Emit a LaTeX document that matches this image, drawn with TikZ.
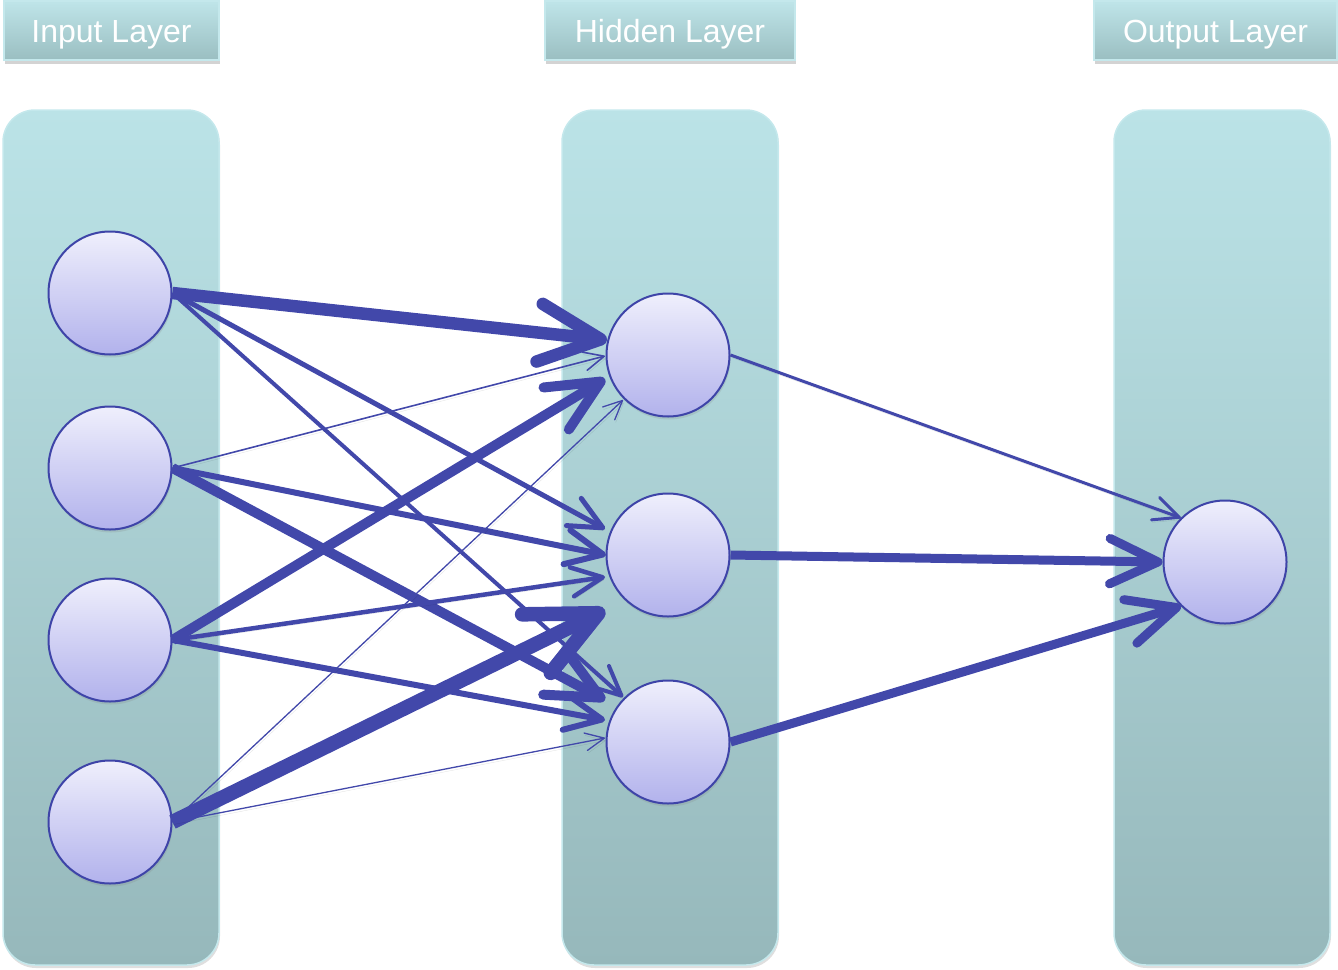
\documentclass[tikz,border=0pt]{standalone}
\usepackage{fontspec}
\setmainfont{Liberation Sans}
\usetikzlibrary{arrows.meta,shadows}

\definecolor{colTop}{RGB}{187,227,231}
\definecolor{colBot}{RGB}{150,184,187}
\definecolor{colRim}{RGB}{196,232,236}
\definecolor{hdTop}{RGB}{191,229,233}
\definecolor{hdBot}{RGB}{154,190,193}
\definecolor{nodeTop}{RGB}{239,239,252}
\definecolor{nodeBot}{RGB}{178,178,236}
\definecolor{nodeLine}{RGB}{62,68,168}
\definecolor{linkc}{RGB}{66,72,170}

\tikzset{
  column/.style={rectangle, rounded corners=32pt, minimum width=216pt,
    minimum height=855pt, top color=colTop, bottom color=colBot,
    draw=colRim, line width=1.5pt,
    drop shadow={opacity=0.25, shadow xshift=1pt, shadow yshift=-3pt}},
  header/.style={rectangle, minimum height=59pt, inner sep=0pt,
    top color=hdTop, bottom color=hdBot, draw=colRim, line width=1.2pt,
    text=white, font=\fontsize{32}{38}\selectfont,
    text height=23pt, text depth=0pt,
    drop shadow={opacity=0.35, shadow xshift=1pt, shadow yshift=-4pt}},
  neuron/.style={circle, minimum size=123pt, inner sep=0pt,
    draw=nodeLine, line width=2pt, top color=nodeTop, bottom color=nodeBot,
    drop shadow={opacity=0.2, shadow xshift=1pt, shadow yshift=-3pt}},
  wire/.style={draw=linkc, line width=#1,
    -{Straight Barb[round, length=14pt 3.8, width=13pt 3.6]},
    preaction={draw=black, draw opacity=0.1,
      transform canvas={xshift=1pt, yshift=-2.5pt}}},
}

\begin{document}
\begin{tikzpicture}[x=1pt, y=-1pt]
  \useasboundingbox (0,0) rectangle (1338,969);

  % layer columns
  \node[column] (colI) at (111,537.5) {};
  \node[column] (colH) at (670,537.5) {};
  \node[column] (colO) at (1222,537.5) {};

  % layer titles
  \node[header, minimum width=215pt] (hdI) at (111.5,30.5) {Input Layer};
  \node[header, minimum width=250pt] (hdH) at (670,30.5) {Hidden Layer};
  \node[header, minimum width=243pt] (hdO) at (1215.5,30.5) {Output Layer};

  % neurons
  \node[neuron] (i1) at (110,293) {};
  \node[neuron] (i2) at (110,468) {};
  \node[neuron] (i3) at (110,640) {};
  \node[neuron] (i4) at (110,822) {};
  \node[neuron] (h1) at (668,355) {};
  \node[neuron] (h2) at (668,555) {};
  \node[neuron] (h3) at (668,742) {};
  \node[neuron] (o1) at (1225,562) {};

  % input -> hidden weights
  \draw[wire=12.5pt] (i1.east) -- ([shift={(-61,-15)}]h1.center);
  \draw[wire=5pt]    (i1.east) -- ([shift={(-63,-26)}]h2.center);
  \draw[wire=4pt]    (i1.east) -- ([shift={(-45,-45)}]h3.center);

  \draw[wire=1.6pt]  (i2.east) -- ([shift={(-63,1)}]h1.center);
  \draw[wire=6pt]    (i2.east) -- ([shift={(-62,0)}]h2.center);
  \draw[wire=10pt]   (i2.east) -- ([shift={(-63,-42)}]h3.center);

  \draw[wire=10pt]   (i3.east) -- ([shift={(-63,24)}]h1.center);
  \draw[wire=4.5pt]  (i3.east) -- ([shift={(-63,22)}]h2.center);
  \draw[wire=6pt]    (i3.east) -- ([shift={(-63,-22)}]h3.center);

  \draw[wire=1.3pt]  (i4.east) -- ([shift={(-45,45)}]h1.center);
  \draw[wire=14.5pt] (i4.east) -- ([shift={(-63,55)}]h2.center);
  \draw[wire=1.3pt]  (i4.east) -- ([shift={(-63,-4)}]h3.center);

  % hidden -> output weights
  \draw[wire=3pt] (h1.east) -- (o1.135);
  \draw[wire=9pt] (h2.east) -- (o1.west);
  \draw[wire=9pt] (h3.east) -- (o1.225);
\end{tikzpicture}
\end{document}
